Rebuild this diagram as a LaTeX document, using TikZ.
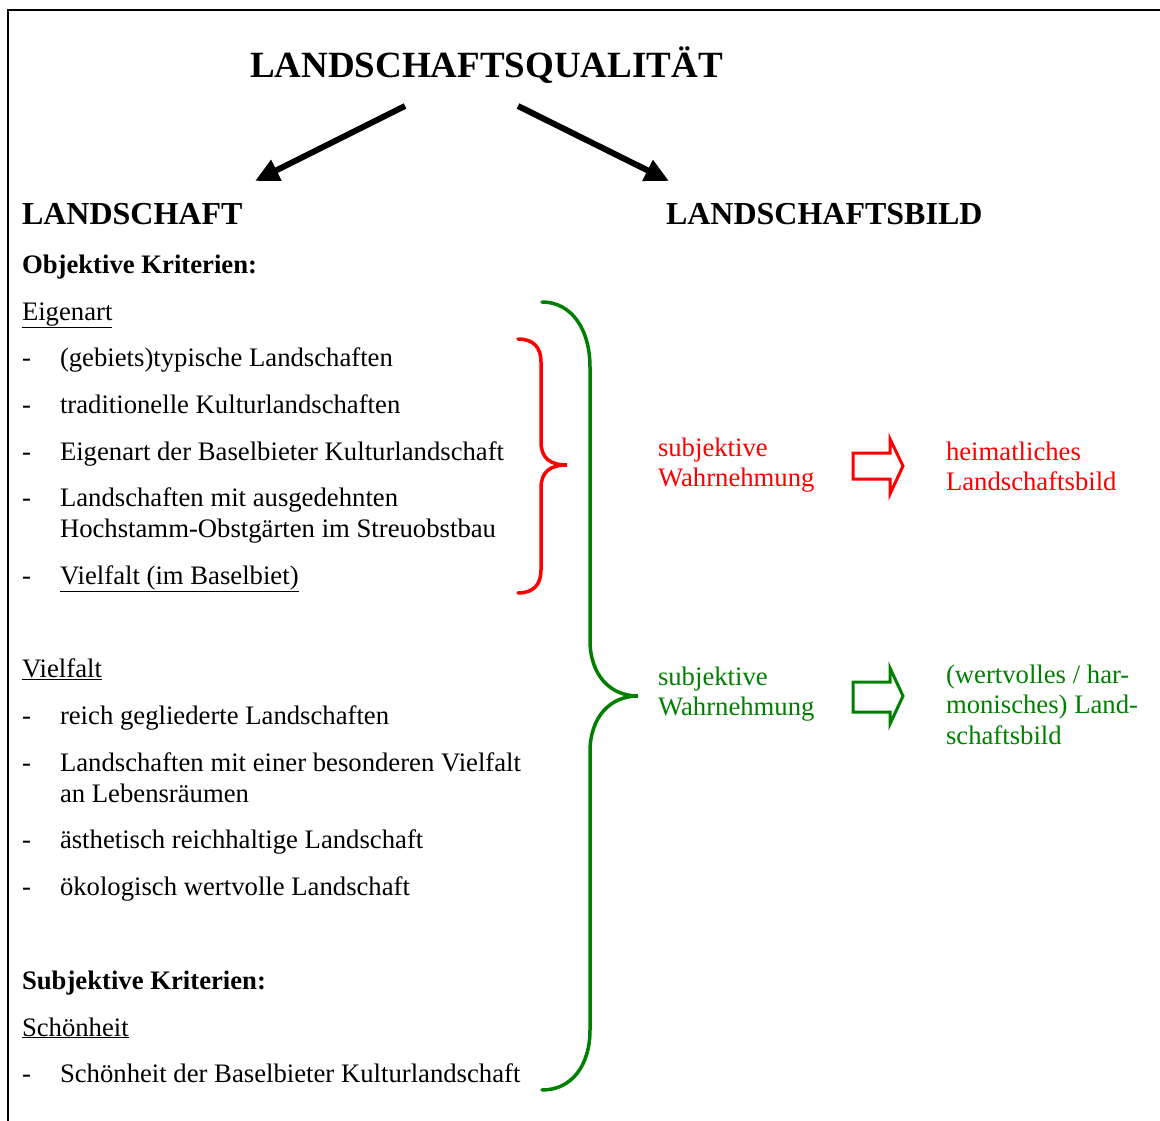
\documentclass[tikz,border=0pt]{standalone}
\usepackage{fontspec}
\setmainfont{Liberation Serif}
\usetikzlibrary{arrows.meta}
\definecolor{dgreen}{RGB}{0,128,0}
\definecolor{bred}{RGB}{255,0,0}
\begin{document}
\begin{tikzpicture}[x=1pt,y=-1pt,
  txt/.style={anchor=base west,inner sep=0pt,outer sep=0pt,font=\fontsize{26.7}{31}\selectfont},
  bold/.style={txt,font=\fontsize{26.7}{31}\selectfont\bfseries},
  head/.style={txt,font=\fontsize{32}{36}\selectfont\bfseries},
  bigarrow/.style={line width=6pt,-{Triangle[length=24pt,width=22pt]}},
  redbrace/.style={draw=bred,line width=3.5pt,line cap=round},
  greenbrace/.style={draw=dgreen,line width=3.5pt,line cap=round},
  outarrow/.style={line width=3pt,line join=miter}]
\useasboundingbox (0,0) rectangle (1160,1121);
% frame
\draw[line width=2pt] (8,1125) -- (8,10) -- (1165,10);

% headings
\node[head,font=\fontsize{37}{40}\selectfont\bfseries] (title) at (250,78) {LANDSCHAFTSQUALITÄT};
\node[head] (land) at (22,225) {LANDSCHAFT};
\node[head] (bild) at (666,225) {LANDSCHAFTSBILD};

\coordinate (a1s) at (405,106);
\coordinate (a1e) at (255,181);
\coordinate (a2s) at (518,106);
\coordinate (a2e) at (669,181);
\draw[bigarrow] (a1s) -- (a1e);
\draw[bigarrow] (a2s) -- (a2e);

% left column
\node[bold] (obj) at (22,273) {Objektive Kriterien:};
\node[txt] (eig) at (22,320) {\underline{Eigenart}};
\node[txt] (d1) at (22,366) {-};
\node[txt] (e1) at (60,366) {(gebiets)typische Landschaften};
\node[txt] (d2) at (22,413) {-};
\node[txt] (e2) at (60,413) {traditionelle Kulturlandschaften};
\node[txt] (d3) at (22,460) {-};
\node[txt] (e3) at (60,460) {Eigenart der Baselbieter Kulturlandschaft};
\node[txt] (d4) at (22,506) {-};
\node[txt] (e4) at (60,506) {Landschaften mit ausgedehnten};
\node[txt] (e4b) at (60,537) {Hochstamm-Obstgärten im Streuobstbau};
\node[txt] (d5) at (22,584) {-};
\node[txt] (e5) at (60,584) {\underline{Vielfalt (im Baselbiet)}};

\node[txt] (vie) at (22,677) {\underline{Vielfalt}};
\node[txt] (d6) at (22,724) {-};
\node[txt] (v1) at (60,724) {reich gegliederte Landschaften};
\node[txt] (d7) at (22,771) {-};
\node[txt] (v2) at (60,771) {Landschaften mit einer besonderen Vielfalt};
\node[txt] (v2b) at (60,802) {an Lebensräumen};
\node[txt] (d8) at (22,848) {-};
\node[txt] (v3) at (60,848) {ästhetisch reichhaltige Landschaft};
\node[txt] (d9) at (22,895) {-};
\node[txt] (v4) at (60,895) {ökologisch wertvolle Landschaft};

\node[bold] (subj) at (22,989) {Subjektive Kriterien:};
\node[txt] (sch) at (22,1036) {\underline{Schönheit}};
\node[txt] (d10) at (22,1082) {-};
\node[txt] (s1) at (60,1082) {Schönheit der Baselbieter Kulturlandschaft};

% braces
\draw[redbrace] (518,339) .. controls (534,339) and (541,348) .. (541,362)
  -- (541,442) .. controls (541,458) and (550,465) .. (567,465)
  .. controls (550,465) and (541,472) .. (541,488)
  -- (541,570) .. controls (541,584) and (534,593) .. (518,593);
\draw[greenbrace] (542,302) .. controls (572,302) and (590,330) .. (590,367)
  -- (590,640) .. controls (590,675) and (610,696) .. (638,696)
  .. controls (610,696) and (590,717) .. (590,752)
  -- (590,1030) .. controls (590,1065) and (572,1090) .. (542,1090);

% right side red
\node[txt,text=bred] (rw1) at (658,456) {subjektive};
\node[txt,text=bred] (rw2) at (658,486) {Wahrnehmung};
\draw[outarrow,draw=bred] (853,453) -- (890,453) -- (890,439) -- (903,466) -- (890,494) -- (890,479) -- (853,479) -- cycle;
\node[txt,text=bred] (rh1) at (946,460) {heimatliches};
\node[txt,text=bred] (rh2) at (946,490) {Landschaftsbild};

% right side green
\node[txt,text=dgreen] (gw1) at (658,685) {subjektive};
\node[txt,text=dgreen] (gw2) at (658,715) {Wahrnehmung};
\draw[outarrow,draw=dgreen] (853,682) -- (890,682) -- (890,668) -- (903,696) -- (890,724) -- (890,712) -- (853,712) -- cycle;
\node[txt,text=dgreen] (gh1) at (946,683) {(wertvolles / har-};
\node[txt,text=dgreen] (gh2) at (946,713) {monisches) Land-};
\node[txt,text=dgreen] (gh3) at (946,744) {schaftsbild};
\end{tikzpicture}
\end{document}
